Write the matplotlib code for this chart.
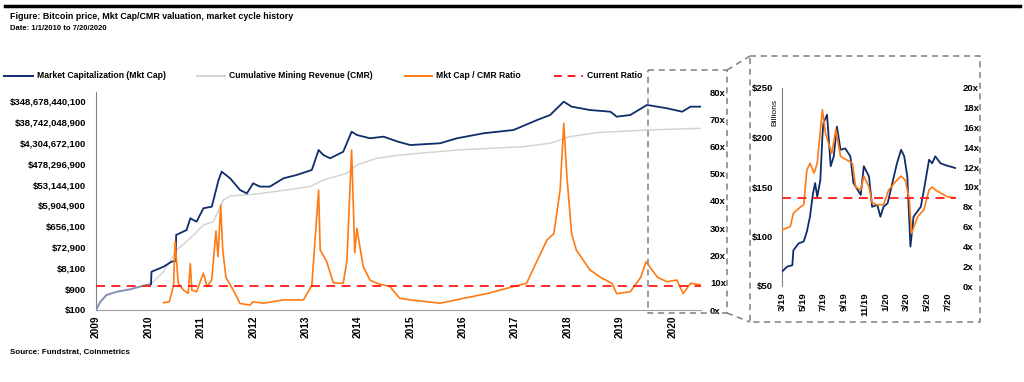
import matplotlib
matplotlib.use('Agg')
import matplotlib.pyplot as plt
from matplotlib.lines import Line2D
from matplotlib.ticker import NullLocator
from matplotlib import font_manager as fm

avail = {f.name for f in fm.fontManager.ttflist}
FONT = 'Liberation Sans Narrow' if 'Liberation Sans Narrow' in avail else 'Liberation Sans'
plt.rcParams['font.family'] = [FONT, 'DejaVu Sans']
plt.rcParams['font.weight'] = 'bold'

# ---------------- data (main chart, decimal years) ----------------
pre_years = [2009.0, 2009.08, 2009.2, 2009.4, 2009.65, 2009.96, 2010.05]
pre_values = [100, 232, 485, 684, 880, 1390, 1540]

mcap_years = [2010.05, 2010.06, 2010.29, 2010.44, 2010.52, 2010.53, 2010.73, 2010.80, 2010.92,
              2011.05, 2011.21, 2011.34, 2011.40, 2011.56, 2011.75, 2011.88, 2012.0, 2012.13,
              2012.32, 2012.58, 2012.83, 2013.12, 2013.25, 2013.34, 2013.47, 2013.72, 2013.88,
              2013.98, 2014.23, 2014.49, 2014.77, 2015.0, 2015.57, 2015.89, 2016.4, 2016.97,
              2017.42, 2017.67, 2017.93, 2018.08, 2018.43, 2018.82, 2018.94, 2019.2, 2019.52,
              2019.9, 2020.19, 2020.35, 2020.55]
mcap_values = [1.54e3, 5.6e3, 9.48e3, 1.6e4, 1.73e4, 2.66e5, 4.5e5, 1.54e6, 1.08e6,
               4.4e6, 5.2e6, 8.6e7, 2.07e8, 1.03e8, 3.0e7, 2.1e7, 6.1e7, 4.3e7,
               4.3e7, 1.03e8, 1.46e8, 2.47e8, 2.02e9, 1.19e9, 8.45e8, 1.68e9, 1.38e10,
               9.8e9, 6.9e9, 8.2e9, 4.8e9, 3.4e9, 4.1e9, 6.9e9, 1.17e10, 1.65e10,
               4.7e10, 8.0e10, 3.25e11, 1.92e11, 1.35e11, 1.13e11, 6.7e10, 8.0e10, 2.3e11,
               1.62e11, 1.13e11, 1.92e11, 1.92e11]

cmr_years = [2010.05, 2010.29, 2010.54, 2010.8, 2011.05, 2011.24, 2011.43, 2011.56, 2012.07,
             2013.09, 2013.34, 2013.79, 2013.98, 2014.36, 2014.8, 2015.89, 2017.16, 2017.67,
             2018.05, 2018.56, 2019.52, 2020.55]
cmr_values = [1.54e3, 5.6e3, 5.49e4, 1.88e5, 7.59e5, 1.08e6, 1.05e7, 1.6e7, 1.98e7,
              4.3e7, 8.6e7, 1.75e8, 4.18e8, 8.45e8, 1.19e9, 2.02e9, 2.86e9, 4.09e9,
              8.2e9, 1.25e10, 1.65e10, 1.97e10]

ratio_years = [2010.29, 2010.40, 2010.48, 2010.51, 2010.57, 2010.67, 2010.76, 2010.80, 2010.83,
               2010.92, 2011.05, 2011.12, 2011.21, 2011.29, 2011.33, 2011.38, 2011.42, 2011.48,
               2011.62, 2011.75, 2011.94, 2012.0, 2012.2, 2012.58, 2012.96, 2013.12, 2013.25,
               2013.28, 2013.4, 2013.53, 2013.72, 2013.79, 2013.88, 2013.94, 2013.98, 2014.1,
               2014.23, 2014.36, 2014.61, 2014.8, 2015.0, 2015.57, 2016.02, 2016.46, 2016.97,
               2017.22, 2017.42, 2017.61, 2017.74, 2017.86, 2017.93, 2017.99, 2018.08, 2018.17,
               2018.43, 2018.63, 2018.85, 2018.94, 2019.2, 2019.4, 2019.5, 2019.72, 2019.9,
               2020.09, 2020.21, 2020.35, 2020.55]
ratio_values = [2.7, 3.0, 9, 25, 9.8, 7.3, 6.1, 17, 7.3,
                6.7, 13.5, 8.6, 11, 29, 19.6, 38.5, 22, 12,
                7.3, 2.4, 1.8, 3, 2.5, 3.7, 3.7, 9, 44,
                22, 18, 10, 9.8, 18, 58.7, 21, 30, 16,
                11, 9.8, 8.6, 4.3, 3.7, 2.5, 4.3, 6, 8.6,
                9.8, 18, 25.7, 28, 44, 68.5, 49, 28, 22,
                14.7, 12, 9.8, 6, 6.7, 12, 17.7, 12, 10.4,
                11, 6, 9.8, 9.2]

current_ratio = 8.9

year_ticks = list(range(2009, 2021))
cap_ticks = [100 * 9 ** k for k in range(11)]
ratio_ticks = list(range(0, 81, 10))

# ---------------- data (inset, months since 3/1/2019) ----------------
inset_mcap_months = [0, 0.5, 1.0, 1.1, 1.6, 2.1, 2.4, 2.7, 3.0, 3.2, 3.4, 3.7, 3.9, 4.0, 4.35,
                     4.7, 5.0, 5.3, 5.65, 6.1, 6.6, 6.9, 7.6, 7.9, 8.4, 8.7, 9.2, 9.5, 9.8,
                     10.2, 10.5, 11.1, 11.5, 11.8, 12.1, 12.4, 12.7, 13.4, 13.7, 14.2, 14.5,
                     14.8, 15.3, 15.8, 16.8]
inset_mcap_billions = [64.5, 69.6, 71, 86, 93, 95, 105, 120, 144, 154, 140, 157, 201, 214.6, 223,
                       171, 181, 211, 187.6, 189, 181, 154, 142, 171, 160.6, 130, 132, 120, 130,
                       133.6, 147, 174, 187.6, 181, 160.6, 89.8, 120, 130, 147, 177.5, 174,
                       181, 174, 172, 169]
inset_ratio_months = [0, 0.8, 1.1, 1.8, 2.1, 2.4, 2.7, 3.1, 3.4, 3.9, 4.2, 4.5, 4.8, 5.2, 5.65,
                      6.3, 6.8, 7.1, 7.6, 7.9, 8.4, 8.7, 9.2, 9.8, 10.3, 11.1, 11.5, 11.9, 12.3,
                      12.5, 13.1, 13.7, 14.2, 14.5, 14.8, 15.3, 16.0, 16.8]
inset_ratio_values = [5.67, 6.0, 7.35, 8.0, 8.2, 11.7, 12.4, 11.4, 12.4, 17.8, 15.4, 14.4, 13.4,
                      15.8, 13.1, 12.7, 12.4, 10.0, 9.7, 11.1, 10.0, 8.4, 8.2, 8.2, 9.7, 10.7,
                      11.1, 10.7, 8.7, 5.3, 7.0, 7.7, 9.7, 10.0, 9.7, 9.4, 9.0, 8.9]
inset_tick_months = [0, 2, 4, 6, 8, 10, 12, 14, 16]
inset_tick_labels = ['3/19', '5/19', '7/19', '9/19', '11/19', '1/20', '3/20', '5/20', '7/20']
inset_cap_ticks = [50, 100, 150, 200, 250]
inset_ratio_ticks = list(range(0, 21, 2))

# ---------------- styling ----------------
NAVY = '#0f2d6b'
SLATE = '#8090b0'
GREY = '#d4d4d4'
ORANGE = '#ff7a12'
RED = '#ff1a1a'
BOX = '#7f7f7f'

W, H = 1024, 382
fig = plt.figure(figsize=(W / 100, H / 100), dpi=100)


def fx(px):
    return px / W


def fy(py):
    return 1 - py / H


def rect(l, t, r, b):
    return [fx(l), fy(b), fx(r) - fx(l), fy(t) - fy(b)]


# ---- main axes ----
ax = fig.add_axes(rect(96, 92, 701, 310))
ax.set_yscale('log', base=9)
ax.set_xlim(2009.0, 2020.55)
ax.set_ylim(100, 100 * 9 ** 10.43)
ax.plot(cmr_years, cmr_values, color=GREY, lw=1.1, zorder=2)
ax.plot(pre_years, pre_values, color=SLATE, lw=1.4, zorder=3)
ax.plot(mcap_years, mcap_values, color=NAVY, lw=1.3, zorder=3)
ax.set_yticks(cap_ticks)
ax.set_yticklabels(['$' + format(v, ',') for v in cap_ticks])
ax.yaxis.set_minor_locator(NullLocator())
ax.set_xticks(year_ticks)
ax.set_xticklabels([str(y) for y in year_ticks], rotation=90, va='top', ha='center')
ax.tick_params(axis='y', length=0, pad=7.2, labelsize=6.8)
ax.tick_params(axis='x', length=0, pad=4, labelsize=7.3)
for s in ['top', 'right']:
    ax.spines[s].set_visible(False)
ax.spines['left'].set_color('#808080')
ax.spines['bottom'].set_color('#a0a0a0')
ax.patch.set_alpha(0)

ax2 = ax.twinx()
ax2.set_ylim(0, 80)
ax2.plot(ratio_years, ratio_values, color=ORANGE, lw=1.2, zorder=4)
ax2.axhline(current_ratio, color=RED, lw=1.3, dashes=(5, 3.5), zorder=5)
ax2.set_yticks(ratio_ticks)
ax2.set_yticklabels([f'{v}x' for v in ratio_ticks])
ax2.tick_params(axis='y', length=0, pad=6.5, labelsize=6.8)
for s in ax2.spines.values():
    s.set_visible(False)

# ---- inset axes ----
ax3 = fig.add_axes(rect(782, 88, 956, 286))
ax3.set_xlim(0, 16.8)
ax3.set_ylim(50, 250)
ax3.plot(inset_mcap_months, inset_mcap_billions, color=NAVY, lw=1.3, zorder=3)
ax3.set_yticks(inset_cap_ticks)
ax3.set_yticklabels([f'${v}' for v in inset_cap_ticks])
ax3.set_xticks(inset_tick_months)
ax3.set_xticklabels(inset_tick_labels, rotation=90, va='top', ha='center')
ax3.tick_params(axis='y', length=0, pad=6.5, labelsize=6.8)
ax3.tick_params(axis='x', length=0, pad=4.5, labelsize=6.8)
for s in ['top', 'right', 'bottom']:
    ax3.spines[s].set_visible(False)
ax3.spines['left'].set_color('#808080')
ax3.patch.set_alpha(0)

ax4 = ax3.twinx()
ax4.set_ylim(0, 20)
ax4.plot(inset_ratio_months, inset_ratio_values, color=ORANGE, lw=1.2, zorder=4)
ax4.axhline(current_ratio, color=RED, lw=1.3, dashes=(5, 3.5), zorder=5)
ax4.set_yticks(inset_ratio_ticks)
ax4.set_yticklabels([f'{v}x' for v in inset_ratio_ticks])
ax4.tick_params(axis='y', length=0, pad=5, labelsize=6.8)
for s in ax4.spines.values():
    s.set_visible(False)

fig.text(fx(775), fy(112), 'Billions', rotation=90, ha='center', va='center', fontsize=6,
         fontweight='normal')


# ---- dashed zoom boxes ----
def fline(xs, ys, **kw):
    fig.add_artist(Line2D([fx(x) for x in xs], [fy(y) for y in ys],
                          transform=fig.transFigure, **kw))


dash = dict(color=BOX, lw=1.1, dashes=(4, 3))
fline([648, 727, 727, 648, 648], [70, 70, 313, 313, 70], **dash)
fline([750, 980, 980, 750, 750], [56, 56, 322, 322, 56], **dash)
fline([727, 750], [70, 56], **dash)
fline([727, 750], [313, 322], **dash)

# ---- legend ----
ly = 76
legend_items = [
    (4, 33, 37, 'Market Capitalization (Mkt Cap)', NAVY, None),
    (197, 225, 229, 'Cumulative Mining Revenue (CMR)', GREY, None),
    (405, 432, 436, 'Mkt Cap / CMR Ratio', ORANGE, None),
    (554, 583, 587, 'Current Ratio', RED, (4, 3)),
]
for x0, x1, tx, label, col, dsh in legend_items:
    kw = dict(color=col, lw=1.4)
    if dsh:
        kw['dashes'] = dsh
    fline([x0, x1], [ly, ly], **kw)
    fig.text(fx(tx), fy(ly), label, ha='left', va='center', fontsize=6.2)

# ---- titles ----
fline([5, 1020], [5.5, 5.5], color='black', lw=2.5)
fig.text(fx(10), fy(16.5), 'Figure: Bitcoin price, Mkt Cap/CMR valuation, market cycle history',
         ha='left', va='center', fontsize=6.4, fontweight='bold')
fig.text(fx(10), fy(28), 'Date: 1/1/2010 to 7/20/2020', ha='left', va='center',
         fontsize=5.5, fontweight='bold')
fig.text(fx(10), fy(352), 'Source: Fundstrat, Coinmetrics', ha='left', va='center',
         fontsize=5.8, fontweight='bold')

fig.savefig('out.png', dpi=100)
